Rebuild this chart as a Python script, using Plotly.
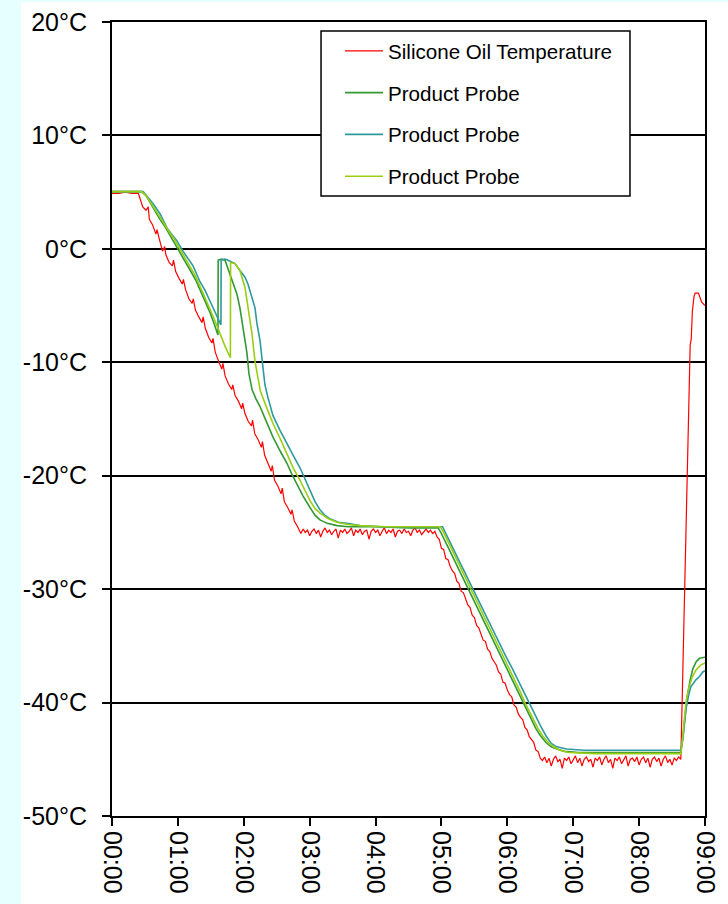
import plotly.graph_objects as go

# Time in minutes from start, temperature in °C
OIL = [
    (0, 4.9), (6, 4.9), (12, 5.0), (18, 4.9), (24, 4.9), (26, 4.3), (28, 3.7), (31, 3.4),
    (33, 3.7), (34, 2.6), (37, 2.1), (40, 1.3), (41, 1.7), (43, 0.9), (46, -0.2), (48, 0.2),
    (49, -0.5), (52, -1.2), (55, -1.5), (56, -1.0), (58, -2.0), (61, -2.6), (64, -3.1),
    (65, -2.7), (67, -3.6), (70, -4.4), (73, -4.8), (74, -4.4), (76, -5.4), (79, -6.0),
    (82, -6.5), (83, -6.0), (85, -7.0), (88, -7.8), (91, -8.3), (92, -7.9), (94, -9.1),
    (97, -9.9), (100, -10.6), (101, -10.1), (103, -11.2), (106, -11.9), (109, -12.4),
    (110, -12.0), (112, -12.9), (115, -13.4), (118, -14.1), (119, -13.6), (121, -14.5),
    (124, -15.2), (127, -15.6), (128, -15.1), (130, -16.3), (133, -16.8), (136, -17.5),
    (137, -17.0), (139, -18.2), (142, -18.9), (145, -19.6), (146, -19.1), (148, -20.4),
    (151, -20.9), (154, -21.6), (155, -21.1), (157, -22.3), (160, -22.8), (163, -23.4),
    (164, -23.0), (166, -24.0), (169, -24.5), (172, -25.1),
    (174, -24.7), (176, -25.0), (178, -24.8), (180, -25.3), (182, -24.9), (184, -24.7),
    (186, -25.1), (188, -24.8), (190, -25.4), (192, -24.9), (194, -24.6), (196, -25.0),
    (198, -24.8), (200, -25.2), (202, -24.9), (204, -24.7), (206, -25.5), (208, -24.8),
    (210, -25.0), (212, -24.7), (214, -25.1), (216, -24.9), (218, -24.6), (220, -25.3),
    (222, -24.8), (224, -25.0), (226, -24.7), (228, -25.2), (230, -24.9), (232, -24.8),
    (234, -25.6), (236, -24.9), (238, -24.7), (240, -25.0), (242, -24.8), (244, -25.3),
    (246, -24.9), (248, -24.6), (250, -25.1), (252, -24.8), (254, -25.0), (256, -24.7),
    (258, -25.4), (260, -24.9), (262, -24.8), (264, -25.1), (266, -24.7), (268, -25.0),
    (270, -24.9), (272, -25.3), (274, -24.8), (276, -24.6), (278, -25.0), (280, -24.8),
    (282, -25.2), (284, -24.9), (286, -24.7), (288, -25.0), (290, -24.8), (292, -25.1),
    (294, -24.9),
    (296, -25.4), (298, -25.6), (300, -26.4), (302, -26.5), (304, -27.3), (306, -27.4),
    (308, -28.0), (310, -28.4), (312, -28.6), (314, -29.3), (316, -29.5), (318, -30.2),
    (320, -30.3), (322, -30.9), (324, -31.4), (326, -31.6), (328, -32.3), (330, -32.5),
    (332, -33.2), (334, -33.4), (336, -33.9), (338, -34.5), (340, -34.6), (342, -35.3),
    (344, -35.5), (346, -36.1), (348, -36.4), (350, -36.7), (352, -37.3), (354, -37.5),
    (356, -38.2), (358, -38.3), (360, -38.9), (362, -39.3), (364, -39.5), (366, -40.2),
    (368, -40.4), (370, -41.0), (372, -41.3), (374, -41.5), (376, -42.2), (378, -42.4),
    (380, -43.0), (382, -43.3), (384, -43.5), (386, -44.2), (388, -44.3), (390, -44.9),
    (392, -45.1),
    (394, -44.8), (396, -45.3), (398, -44.9), (400, -45.6), (402, -45.0), (404, -44.7),
    (406, -45.2), (408, -45.0), (410, -45.8), (412, -44.9), (414, -45.1), (416, -44.8),
    (418, -45.4), (420, -45.0), (422, -44.7), (424, -45.3), (426, -44.9), (428, -45.6),
    (430, -45.0), (432, -44.8), (434, -45.2), (436, -45.0), (438, -45.7), (440, -44.9),
    (442, -45.1), (444, -44.8), (446, -45.5), (448, -45.0), (450, -44.7), (452, -45.3),
    (454, -45.0), (456, -45.8), (458, -44.9), (460, -45.1), (462, -44.8), (464, -45.4),
    (466, -45.0), (468, -44.7), (470, -45.6), (472, -45.0), (474, -44.9), (476, -45.2),
    (478, -44.8), (480, -45.5), (482, -45.0), (484, -44.8), (486, -45.3), (488, -44.9),
    (490, -45.7), (492, -45.0), (494, -44.8), (496, -45.2), (498, -44.9), (500, -45.6),
    (502, -45.0), (504, -44.7), (506, -45.3), (508, -45.0), (510, -45.5), (512, -44.9),
    (514, -45.1), (516, -44.8), (518, -45.0),
    (520, -36.0), (522, -27.0), (524, -19.0), (525.5, -13.4), (526.5, -8.5), (527.5, -7.9),
    (528.5, -5.5), (530, -4.2), (531, -3.9), (534, -3.9), (535.5, -4.4), (537, -4.7),
    (540, -5.0),
]

PROBE_1 = [
    (0, 5.05), (10, 5.05), (20, 5.05), (27, 5.05), (31, 4.7), (34.6, 4.1), (39, 3.3),
    (43.7, 2.6), (48, 2.0), (52.8, 1.2), (57, 0.5), (61.9, -0.3), (66, -1.0), (71, -1.9),
    (76, -2.7), (80.1, -3.6), (85, -4.6), (89.2, -5.6), (93, -6.6), (96.5, -7.6),
    (96.7, -1.0), (100, -0.9), (102.9, -1.0), (105.6, -1.7), (109.3, -2.8), (113.8, -4.0),
    (116.5, -5.2), (119.3, -7.0), (122.9, -9.2), (124.7, -11.0), (127.5, -12.4),
    (131, -13.2), (134.8, -13.9), (140, -15.1), (146.6, -16.6), (153, -17.8),
    (159.3, -18.9), (164, -19.9), (168.4, -20.7), (174, -21.8), (180.3, -22.8),
    (185, -23.5), (189.4, -23.9), (196, -24.2), (204.9, -24.4), (215, -24.5), (240, -24.5),
    (270, -24.6), (297, -24.6), (300, -25.1), (305, -26.1), (310, -27.1), (315, -28.1),
    (320, -29.1), (325, -30.1), (330, -31.1), (335, -32.1), (340, -33.1), (345, -34.1),
    (350, -35.1), (355, -36.1), (360, -37.1), (365, -38.1), (370, -39.1), (374, -40.0),
    (378, -40.8), (382, -41.6), (386, -42.3), (390, -42.9), (395, -43.5), (400, -43.9),
    (405, -44.1), (412, -44.3), (425, -44.4), (460, -44.4), (500, -44.4), (518, -44.4),
    (519.5, -43.3), (521.5, -41.4), (524, -39.4), (526.5, -38.0), (529, -37.0),
    (532, -36.4), (535, -36.1), (540, -36.0),
]

PROBE_2 = [
    (0, 5.05), (10, 5.05), (20, 5.05), (28.3, 5.05), (33, 4.5), (37.3, 4.0), (43.7, 3.1),
    (50.1, 1.85), (55, 1.2), (59.2, 0.7), (64.6, -0.2), (69, -0.8), (73.8, -1.5),
    (80.1, -2.9), (85, -3.7), (89.2, -4.6), (94, -5.6), (99.2, -6.7), (99.4, -1.0),
    (103, -0.9), (105.6, -1.0), (109, -1.2), (112, -1.3), (116.5, -1.9), (121.1, -2.5),
    (123.8, -3.1), (127.5, -4.3), (130.2, -5.2), (132, -6.6), (134.8, -8.1),
    (137.5, -10.5), (139.3, -12.0), (142, -13.1), (146.6, -14.7), (153, -16.0),
    (159.3, -17.2), (165, -18.2), (171.2, -19.3), (176, -20.3), (180.3, -21.3),
    (185, -22.3), (189.4, -23.0), (194, -23.5), (198.5, -23.8), (206, -24.1), (214, -24.2),
    (225.8, -24.4), (245, -24.5), (275, -24.5), (301, -24.5), (304, -25.1), (309, -26.1),
    (314, -27.1), (319, -28.1), (324, -29.1), (329, -30.1), (334, -31.1), (339, -32.1),
    (344, -33.1), (349, -34.1), (354, -35.1), (359, -36.0), (364, -36.9), (369, -37.9),
    (374, -38.8), (380, -40.0), (385, -41.0), (390, -42.0), (395, -42.9), (400, -43.6),
    (405, -43.9), (414, -44.1), (430, -44.2), (470, -44.2), (518, -44.2), (520, -43.1),
    (522.6, -40.6), (525, -39.4), (527.1, -38.6), (529.5, -38.3), (531.7, -38.0),
    (535, -37.7), (538, -37.3), (540, -37.2),
]

PROBE_3 = [
    (0, 5.05), (10, 5.05), (20, 5.05), (27, 5.05), (31, 4.7), (34.6, 4.2), (39, 3.5),
    (43.7, 2.8), (48, 2.1), (52.8, 1.4), (57, 0.8), (61.9, 0.0), (66, -0.7), (71, -1.5),
    (76, -2.4), (80.1, -3.3), (85, -4.3), (89.2, -5.3), (94, -6.4), (98.3, -7.5),
    (103, -8.6), (107.8, -9.6), (108.0, -1.2), (112, -1.3), (116.5, -1.9), (121.1, -3.4),
    (123.8, -5.2), (127.5, -7.5), (130.2, -9.9), (132.9, -11.6), (135, -12.5),
    (140, -13.8), (146.6, -15.4), (153, -16.7), (159.3, -18.0), (165, -19.3),
    (171.2, -20.4), (176, -21.4), (180.3, -22.2), (185, -22.9), (189.4, -23.3),
    (197, -23.8), (204.9, -24.1), (215, -24.3), (225.8, -24.4), (250, -24.5), (299, -24.5),
    (302, -25.0), (307, -26.0), (312, -27.0), (317, -28.0), (322, -29.1), (327, -30.1),
    (332, -31.1), (337, -32.1), (342, -33.1), (347, -34.1), (352, -35.1), (357, -36.1),
    (362, -37.1), (367, -38.1), (372, -39.1), (376, -40.0), (380, -40.8), (384, -41.6),
    (388, -42.3), (392, -42.9), (397, -43.5), (402, -43.9), (408, -44.2), (416, -44.4),
    (440, -44.5), (480, -44.5), (518, -44.5), (519.5, -43.3), (521, -41.5),
    (522.6, -40.0), (525, -38.8), (528.2, -37.8), (532, -37.1), (536, -36.7),
    (540, -36.5),
]

SERIES_NAMES = ["Silicone Oil Temperature", "Product Probe", "Product Probe", "Product Probe"]
SERIES_COLORS = ["#FF0000", "#339933", "#2E9A9E", "#9ACD14"]
SERIES_WIDTHS = [1.2, 1.6, 1.6, 1.6]

TIME_TICKS = [0, 60, 120, 180, 240, 300, 360, 420, 480, 540]
TIME_LABELS = ["00:00", "01:00", "02:00", "03:00", "04:00",
               "05:00", "06:00", "07:00", "08:00", "09:00"]
TEMP_TICKS = [20, 10, 0, -10, -20, -30, -40, -50]
TEMP_LABELS = ["20°C", "10°C", "0°C", "-10°C", "-20°C", "-30°C", "-40°C", "-50°C"]

FONT = "Arial, 'Liberation Sans', sans-serif"

fig = go.Figure()
for i, (data, name, color, width) in enumerate(
        zip([OIL, PROBE_1, PROBE_2, PROBE_3], SERIES_NAMES, SERIES_COLORS, SERIES_WIDTHS)):
    t = [p[0] for p in data]
    c = [p[1] for p in data]
    fig.add_trace(go.Scatter(
        x=t, y=c, mode="lines", name=name, legendgroup=f"g{i}",
        line=dict(color=color, width=width),
    ))

axis_common = dict(
    showline=True, linecolor="#000", linewidth=2, mirror=True,
    ticks="outside", ticklen=8, tickwidth=1.5, tickcolor="#000",
    tickfont=dict(family=FONT, size=25, color="#000"),
    zeroline=False, automargin=False,
)

fig.update_xaxes(
    range=[0, 540], tickvals=TIME_TICKS, ticktext=TIME_LABELS,
    tickangle=90, showgrid=False, **axis_common,
)
fig.update_yaxes(
    range=[-50, 20], tickvals=TEMP_TICKS, ticktext=TEMP_LABELS,
    showgrid=True, gridcolor="#000", gridwidth=1.6,
    ticklabelstandoff=10, **axis_common,
)

# White page panel, and the framed box that holds the legend entries
page_panel = dict(type="rect", xref="paper", yref="paper",
                  x0=-0.1535, x1=1.06, y0=-0.13, y1=1.0252,
                  fillcolor="#FFFFFF", line=dict(width=0), layer="below")
legend_frame = dict(type="rect", xref="paper", yref="paper",
                    x0=0.3525, x1=0.8735, y0=0.7809, y1=0.9887,
                    fillcolor="#FFFFFF", line=dict(color="#000", width=1.5),
                    layer="above")

fig.update_layout(
    width=728, height=904,
    margin=dict(l=112, r=23, t=22, b=88),
    paper_bgcolor="#E6FFFF", plot_bgcolor="#FFFFFF",
    shapes=[page_panel, legend_frame],
    showlegend=True,
    legend=dict(
        x=0.3845, y=0.9887, xanchor="left", yanchor="top",
        bgcolor="rgba(0,0,0,0)", borderwidth=0,
        font=dict(family=FONT, size=20.6, color="#000"),
        traceorder="grouped", tracegroupgap=12, itemwidth=38,
    ),
)

fig.write_html("out.html")
